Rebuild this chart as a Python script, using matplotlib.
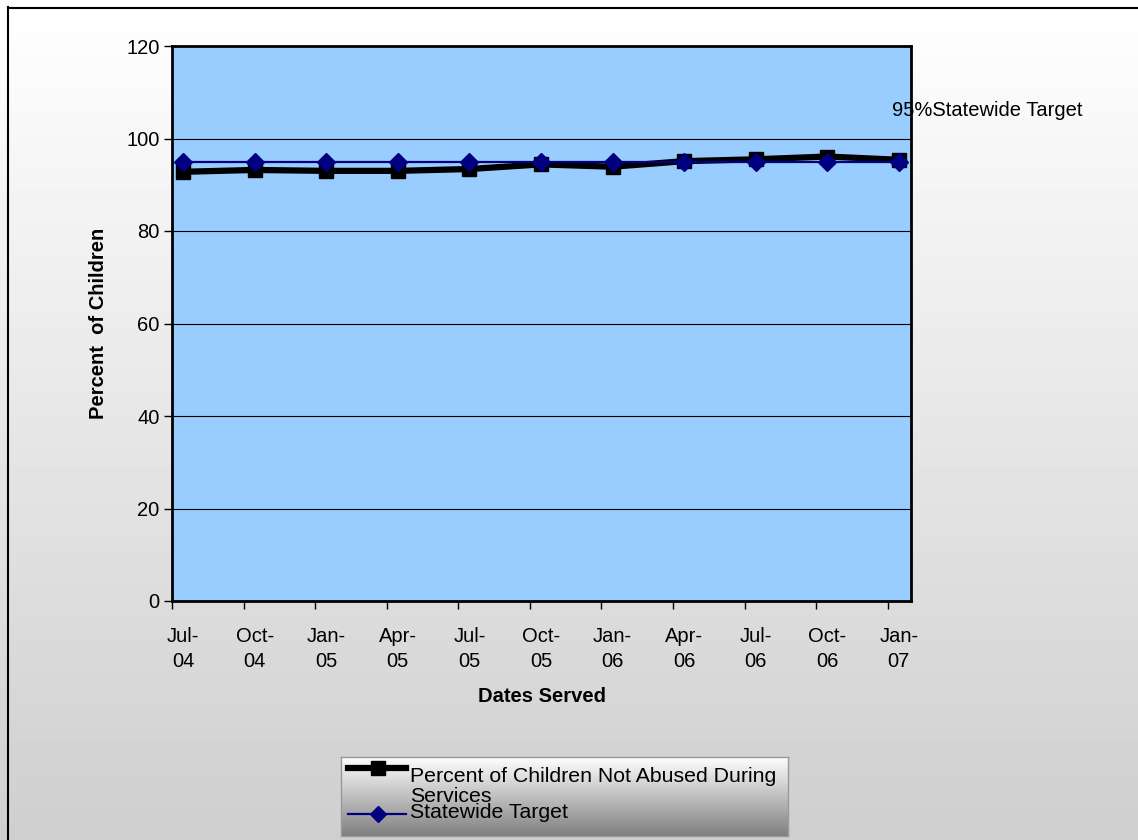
import numpy as np
import matplotlib
matplotlib.use("Agg")
import matplotlib.pyplot as plt
from matplotlib.lines import Line2D

plt.rcParams['font.family'] = ['Liberation Sans', 'DejaVu Sans']

# data
dates = ["Jul-\n04", "Oct-\n04", "Jan-\n05", "Apr-\n05", "Jul-\n05", "Oct-\n05",
         "Jan-\n06", "Apr-\n06", "Jul-\n06", "Oct-\n06", "Jan-\n07"]
not_abused = [92.8, 93.2, 93.0, 93.0, 93.4, 94.4, 93.9, 95.1, 95.5, 96.1, 95.4]
target = [95, 95, 95, 95, 95, 95, 95, 95, 95, 95, 95]

W, H = 1138, 840
FS = 14.5
fig = plt.figure(figsize=(W / 100, H / 100), dpi=100)

# gradient background for the whole chart
bg = fig.add_axes([0, 0, 1, 1], zorder=-2)
grad = np.linspace(1.0, 0.81, 256).reshape(-1, 1)
bg.imshow(grad, cmap='gray', vmin=0, vmax=1, aspect='auto', extent=[0, W, H, 0])
bg.set_xlim(0, W)
bg.set_ylim(H, 0)
bg.axis('off')
# chart border: only top and left edges are inside the picture
bg.plot([8, W], [7.5, 7.5], color='black', lw=1.5)
bg.plot([8.5, 8.5], [7, H], color='black', lw=1.5)

# plot area
ax = fig.add_axes([172 / W, 1 - 601 / H, (911 - 172) / W, (601 - 46) / H])
ax.set_facecolor('#99CCFF')
x = np.arange(len(dates))
ax.plot(x, not_abused, color='black', lw=4.5, marker='s', markersize=10,
        markerfacecolor='black', markeredgecolor='black', zorder=3)
ax.plot(x, target, color='#000080', lw=1.6, marker='D', markersize=9,
        markerfacecolor='#000080', markeredgecolor='#000080', zorder=4)

ax.set_ylim(0, 120)
ax.set_yticks(range(0, 121, 20))
ax.yaxis.grid(True, color='black', lw=0.8)
ax.set_axisbelow(True)
ax.tick_params(axis='y', length=6, width=1, labelsize=FS, pad=3, colors='black')

spacing_off = -0.154
ax.set_xlim(spacing_off, 10.17)
ax.set_xticks(x)
ax.set_xticklabels(dates, linespacing=1.35)
ax.set_xticks(x + spacing_off, minor=True)
ax.tick_params(axis='x', which='major', length=0, labelsize=FS, pad=19)
ax.tick_params(axis='x', which='minor', length=6, width=1)

for s in ax.spines.values():
    s.set_color('black')
    s.set_linewidth(2)
    s.set_zorder(6)

ax.set_xlabel("Dates Served", fontsize=FS, fontweight='bold', labelpad=12)
ax.set_ylabel("Percent  of Children", fontsize=FS, fontweight='bold', labelpad=13)

fig.text(1083 / W, 1 - 111 / H, "95%Statewide Target", fontsize=FS, va='center', ha='right')

# legend box with gradient
lx0, ly0, lx1, ly1 = 341, 757, 788, 836
lg = fig.add_axes([lx0 / W, 1 - ly1 / H, (lx1 - lx0) / W, (ly1 - ly0) / H])
lgrad = np.linspace(1.0, 0.50, 256).reshape(-1, 1)
lg.imshow(lgrad, cmap='gray', vmin=0, vmax=1, aspect='auto', extent=[0, lx1 - lx0, ly1 - ly0, 0])
lg.set_xlim(0, lx1 - lx0)
lg.set_ylim(ly1 - ly0, 0)
lg.set_xticks([])
lg.set_yticks([])
for s in lg.spines.values():
    s.set_color('#999999')
    s.set_linewidth(1)
LFS = 15.3
lg.add_line(Line2D([7, 65], [11, 11], color='black', lw=4.5))
lg.plot([37], [11], marker='s', color='black', markersize=10)
lg.add_line(Line2D([7, 65], [57, 57], color='#000080', lw=1.6))
lg.plot([37], [57], marker='D', color='#000080', markersize=8)
lg.text(69, 19, "Percent of Children Not Abused During", fontsize=LFS, va='center')
lg.text(69, 39, "Services", fontsize=LFS, va='center')
lg.text(69, 56, "Statewide Target", fontsize=LFS, va='center')

fig.savefig("out.png", dpi=100)
